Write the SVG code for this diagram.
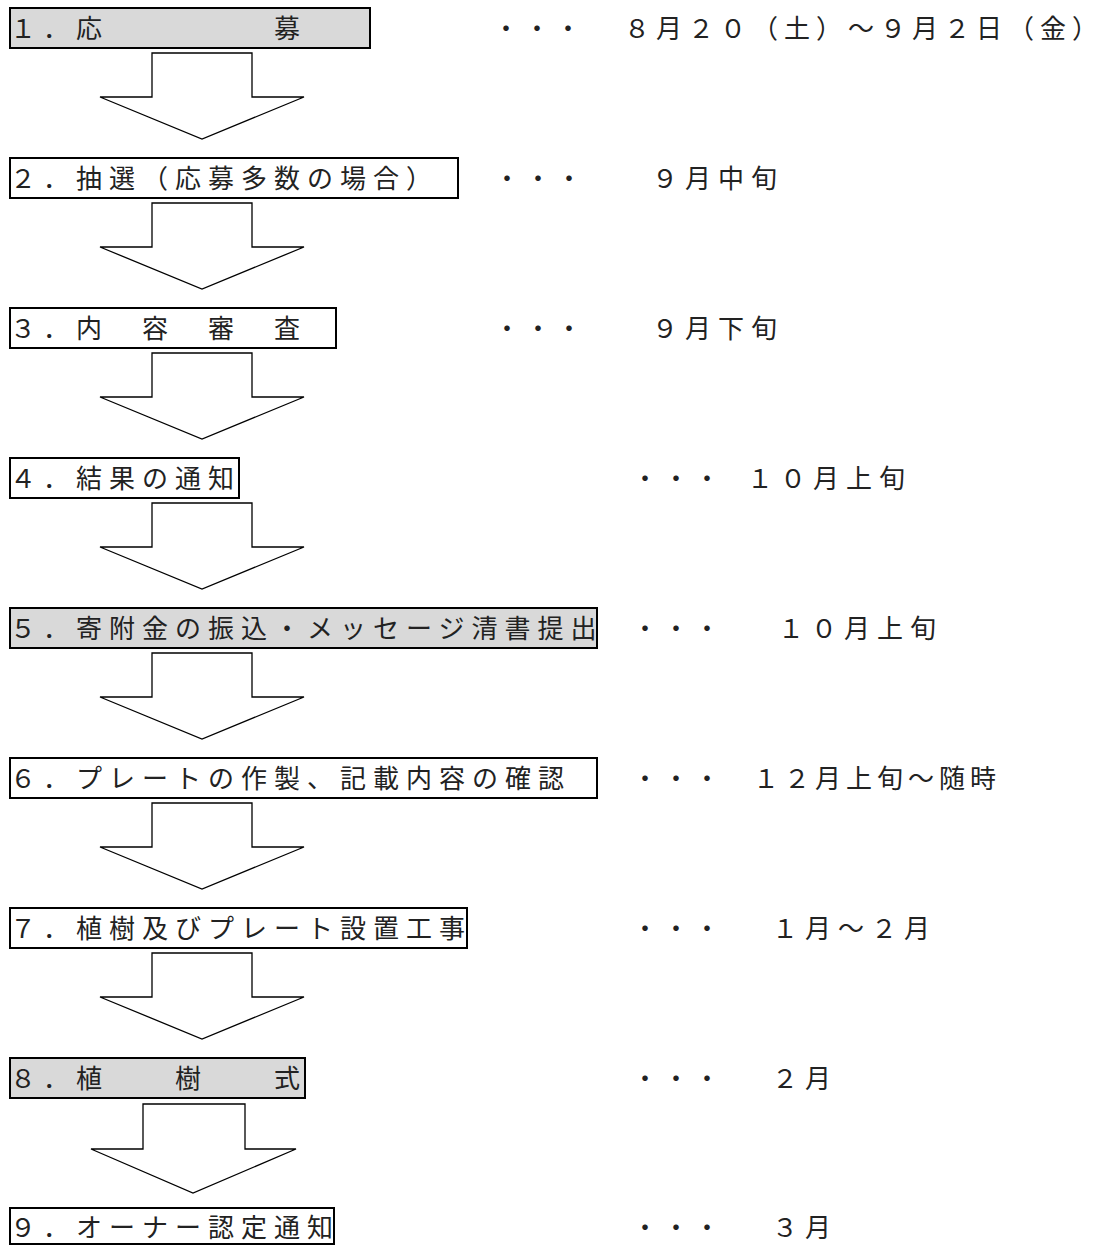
<svg xmlns="http://www.w3.org/2000/svg" width="1116" height="1245" viewBox="0 0 1116 1245">
<style>
.box{fill:#fff;stroke:#000;stroke-width:2}
.gray{fill:#d9d9d9}
.t{font-family:"Noto Sans CJK JP","Noto Sans CJK SC",sans-serif;font-size:26px;letter-spacing:7px;fill:#222}
.d{letter-spacing:5px}
.arrow{fill:#fff;stroke:#000;stroke-width:1.3;stroke-linejoin:miter}
</style>
<rect width="1116" height="1245" fill="#fff"/>
<g id="connectors">
<polygon class="arrow" points="152,53 252,53 252,97 304,97 202,139 100,97 152,97"/>
<polygon class="arrow" points="152,203 252,203 252,247 304,247 202,289 100,247 152,247"/>
<polygon class="arrow" points="152,353 252,353 252,397 304,397 202,439 100,397 152,397"/>
<polygon class="arrow" points="152,503 252,503 252,547 304,547 202,589 100,547 152,547"/>
<polygon class="arrow" points="152,653 252,653 252,697 304,697 202,739 100,697 152,697"/>
<polygon class="arrow" points="152,803 252,803 252,847 304,847 202,889 100,847 152,847"/>
<polygon class="arrow" points="152,953 252,953 252,997 304,997 202,1039 100,997 152,997"/>
<polygon class="arrow" points="143,1104 245,1104 245,1149 296,1149 193,1193 91,1149 143,1149"/>
</g>
<g id="node1">
<rect class="box gray" x="10" y="8" width="360" height="40"/>
<text class="t" x="10" y="38">１．応　　　　　募</text>
<text class="t" y="38"><tspan class="d" x="493">・・・</tspan><tspan x="624" letter-spacing="6">８月２０（土）～９月２日（金）</tspan></text>
</g>
<g id="node2">
<rect class="box" x="10" y="158" width="448" height="40"/>
<text class="t" x="10" y="188">２．抽選（応募多数の場合）</text>
<text class="t" y="188"><tspan class="d" x="494">・・・</tspan><tspan x="652">９月中旬</tspan></text>
</g>
<g id="node3">
<rect class="box" x="10" y="308" width="326" height="40"/>
<text class="t" x="10" y="338">３．内　容　審　査</text>
<text class="t" y="338"><tspan class="d" x="494">・・・</tspan><tspan x="652">９月下旬</tspan></text>
</g>
<g id="node4">
<rect class="box" x="10" y="458" width="229" height="40"/>
<text class="t" x="10" y="488">４．結果の通知</text>
<text class="t" y="488"><tspan class="d" x="632">・・・</tspan><tspan x="747">１０月上旬</tspan></text>
</g>
<g id="node5">
<rect class="box gray" x="10" y="608" width="587" height="40"/>
<text class="t" x="10" y="638">５．寄附金の振込・メッセージ清書提出</text>
<text class="t" y="638"><tspan class="d" x="632">・・・</tspan><tspan x="778">１０月上旬</tspan></text>
</g>
<g id="node6">
<rect class="box" x="10" y="758" width="587" height="40"/>
<text class="t" x="10" y="788">６．プレートの作製、記載内容の確認</text>
<text class="t" y="788"><tspan class="d" x="632">・・・</tspan><tspan x="753" letter-spacing="5">１２月上旬～随時</tspan></text>
</g>
<g id="node7">
<rect class="box" x="10" y="908" width="457" height="40"/>
<text class="t" x="10" y="938">７．植樹及びプレート設置工事</text>
<text class="t" y="938"><tspan class="d" x="632">・・・</tspan><tspan x="772">１月～２月</tspan></text>
</g>
<g id="node8">
<rect class="box gray" x="10" y="1058" width="295" height="40"/>
<text class="t" x="10" y="1088">８．植　　樹　　式</text>
<text class="t" y="1088"><tspan class="d" x="632">・・・</tspan><tspan x="772">２月</tspan></text>
</g>
<g id="node9">
<rect class="box" x="10" y="1208" width="324" height="36"/>
<text class="t" x="10" y="1237">９．オーナー認定通知</text>
<text class="t" y="1237"><tspan class="d" x="632">・・・</tspan><tspan x="772">３月</tspan></text>
</g>
</svg>
